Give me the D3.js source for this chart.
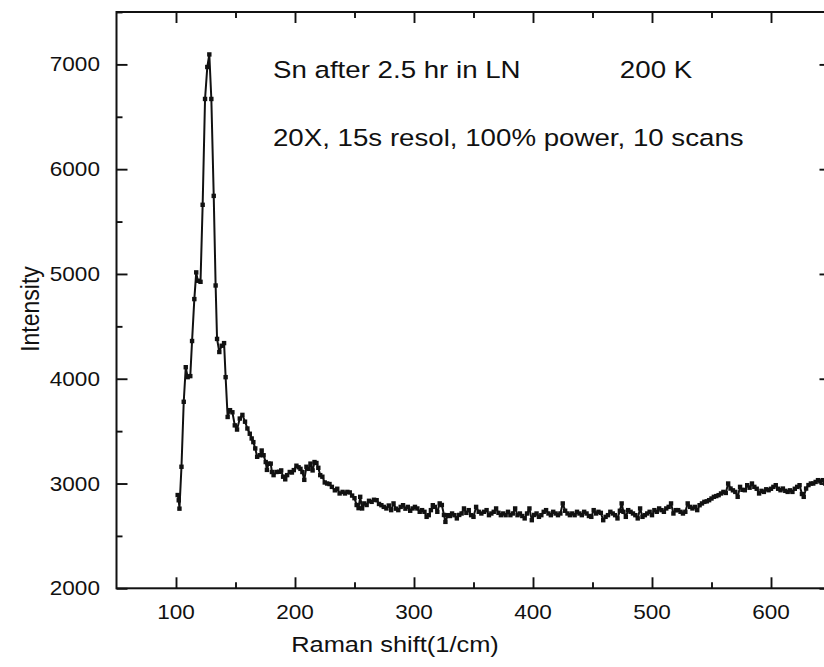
<!DOCTYPE html>
<html>
<head>
<meta charset="utf-8">
<script src="https://cdn.jsdelivr.net/npm/d3@7"></script>
<style>
  html, body { margin: 0; padding: 0; background: #fff; overflow: hidden; }
  svg { display: block; }
  text { font-family: "Liberation Sans", Arial, sans-serif; fill: #111; }
</style>
</head>
<body>
<svg id="chart" width="824" height="667"></svg>
<script>
// ---- data ----
const ramanShift = [
  101.4,102.3,102.9,104.6,106.5,108.2,109.8,112.0,113.5,115.4,117.0,118.3,120.6,122.4,124.4,126.3,128.0,129.7,131.7,133.3,
  134.5,136.4,138.4,140.4,141.7,143.4,145.4,147.4,149.4,151.3,153.6,155.8,158,160,162,163.6,165,166.6,168.2,170.5,
  172,173.6,175.4,176.4,177.8,179.6,180.6,182,184.4,186.6,188.4,190,191.8,193.4,195.6,197.4,199,201.2,203,204.6,
  206.2,207.8,209.6,211.4,213,214.8,216.4,218,219.6,221.2,223,225,227,229,231,233.5,235.5,237.5,240,242,
  244,246,248,250,251.8,253.4,254.8,256.4,258.2,260.2,262.2,264.4,266.4,268.6,270.6,272.6,274.6,276.8,278.8,280.8,
  282.8,284.8,286.8,288.8,290.8,292.8,294.8,296.8,298.8,300.8,302.8,304.8,306.8,308.8,310.6,312.4,314.2,315.8,317.6,319.6,
  321.6,323.4,325.2,326.4,328.4,330.2,332,334,336,338,340,342,344,346,348,350,352.2,354.4,356.6,358.8,
  361,363,365,367,369,371,373,375,377,379,381,383,385,387,389,391,393,395,397,399,
  401,403,405,407,409,411,413,415,417,419,421,423,425,427,429,431,433,435,437,439,
  441,443,445,447,449,451,453,455,457,459,461,463,465,467,469,471,473,474.5,476,478,
  480,482,484,486,488,490,492,494,496,498,500,502,504,506,508,510,512,514,516,518,
  520,522,524,526,528,530,532,534,536,538,540,542,544,546,548,550,552,554,556,558,
  560,562,564,566,568,570,572,574,576,578,580,582,584,586,588,590,592,594,596,598,
  600,602,604,606,608,610,612,614,616,618,620,622,624,626,627.5,629.5,631.5,633.5,635.5,637.5,
  639.5,641.5,643.5,645.5,647.5,649.5
];
const intensity = [
  2890,2840,2760,3160,3780,4110,4015,4025,4360,4760,5015,4935,4925,5660,6670,6975,7095,6670,5745,4890,
  4380,4255,4315,4340,4015,3635,3700,3680,3555,3515,3620,3655,3590,3525,3475,3430,3395,3335,3255,3270,
  3315,3270,3205,3130,3190,3190,3110,3080,3110,3112,3125,3065,3040,3080,3110,3105,3128,3170,3155,3140,
  3110,3035,3160,3140,3190,3125,3205,3196,3150,3080,3065,3010,3000,2995,2968,2935,2950,2905,2920,2905,
  2920,2915,2885,2860,2795,2765,2873,2762,2810,2795,2835,2825,2845,2841,2805,2793,2777,2762,2790,2746,
  2810,2760,2746,2777,2793,2760,2777,2740,2762,2777,2762,2730,2746,2730,2682,2698,2746,2793,2777,2730,
  2810,2795,2700,2634,2698,2690,2714,2698,2667,2700,2714,2762,2720,2746,2698,2682,2777,2730,2714,2730,
  2746,2698,2714,2730,2762,2720,2698,2714,2698,2730,2698,2714,2762,2698,2714,2690,2667,2714,2762,2650,
  2700,2714,2682,2698,2730,2746,2714,2698,2730,2714,2698,2714,2810,2740,2714,2698,2714,2698,2730,2714,
  2698,2730,2714,2690,2682,2746,2714,2730,2720,2650,2682,2698,2730,2714,2698,2667,2740,2810,2730,2682,
  2746,2730,2714,2698,2667,2762,2682,2698,2714,2730,2698,2746,2730,2762,2746,2730,2762,2777,2810,2714,
  2746,2746,2730,2714,2730,2810,2777,2762,2777,2746,2793,2810,2825,2830,2841,2857,2873,2880,2889,2905,
  2920,2910,3000,2952,2935,2920,2873,2968,2940,2936,2984,2960,3000,2968,2950,2905,2930,2920,2945,2936,
  2950,2968,2984,2950,2936,2952,2930,2920,2935,2920,2950,2968,2984,2900,2873,2952,2985,3000,3000,3015,
  3032,3020,3032,3000,3040,3020
];
const xMajorTicks = [100, 200, 300, 400, 500, 600];
const xMinorTicks = [150, 250, 350, 450, 550, 650];
const yMajorTicks = [2000, 3000, 4000, 5000, 6000, 7000];
const yMinorTicks = [2500, 3500, 4500, 5500, 6500, 7500];
const xTitle = "Raman shift(1/cm)";
const yTitle = "Intensity";
const notes = [
  {text: "Sn after 2.5 hr in LN", vx: 181.5, vy: 6872},
  {text: "200 K", vx: 473, vy: 6872},
  {text: "20X, 15s resol, 100% power, 10 scans", vx: 181.5, vy: 6225}
];

// ---- layout ----
const svg = d3.select("#chart");
const pLeft = 116.5, pRight = 830.5, pTop = 12, pBottom = 588.3;
const x = d3.scaleLinear().domain([50, 650]).range([pLeft, pRight]);
const y = d3.scaleLinear().domain([2000, 7500]).range([pBottom, pTop]);
const SX = 1.13; // horizontal stretch of the glyphs in the reference

const data = ramanShift.map((v, i) => ({x: v, y: intensity[i]}));

svg.append("defs").append("clipPath").attr("id", "clip")
  .append("rect").attr("x", pLeft).attr("y", pTop).attr("width", pRight - pLeft).attr("height", pBottom - pTop);

const plot = svg.append("g").attr("clip-path", "url(#clip)");
plot.append("path").datum(data)
  .attr("fill", "none").attr("stroke", "#111").attr("stroke-width", 2)
  .attr("stroke-linejoin", "round")
  .attr("d", d3.line().x(d => x(d.x)).y(d => y(d.y)));
plot.selectAll("rect.pt").data(data).join("rect").attr("class", "pt")
  .attr("x", d => x(d.x) - 2.2).attr("y", d => y(d.y) - 2.2)
  .attr("width", 4.4).attr("height", 4.4).attr("fill", "#111");

// frame
svg.append("rect").attr("x", pLeft).attr("y", pTop).attr("width", pRight - pLeft).attr("height", pBottom - pTop)
  .attr("fill", "none").attr("stroke", "#111").attr("stroke-width", 2);

// axes with inward ticks
const sw = 1.9;
function addAxis(axisGen, transform, ticks, size) {
  const g = svg.append("g").attr("transform", transform)
    .call(axisGen.tickValues(ticks).tickSize(size).tickFormat(""));
  g.select(".domain").remove();
  g.selectAll("line").attr("stroke", "#111").attr("stroke-width", sw);
  g.selectAll("text").remove();
  return g;
}
addAxis(d3.axisTop(x), `translate(0,${pBottom})`, xMajorTicks, 11);
addAxis(d3.axisTop(x), `translate(0,${pBottom})`, xMinorTicks, 6);
addAxis(d3.axisBottom(x), `translate(0,${pTop})`, xMajorTicks, 11);
addAxis(d3.axisBottom(x), `translate(0,${pTop})`, xMinorTicks, 6);
addAxis(d3.axisRight(y), `translate(${pLeft},0)`, yMajorTicks, 11);
addAxis(d3.axisRight(y), `translate(${pLeft},0)`, yMinorTicks, 6);
addAxis(d3.axisLeft(y), `translate(${pRight},0)`, yMajorTicks, 11);
addAxis(d3.axisLeft(y), `translate(${pRight},0)`, yMinorTicks, 6);

// tick labels
svg.append("g").selectAll("text").data(xMajorTicks).join("text")
  .attr("transform", d => `translate(${x(d)},619) scale(${SX},1)`)
  .attr("text-anchor", "middle").attr("font-size", 20).text(d => d);
svg.append("g").selectAll("text").data(yMajorTicks).join("text")
  .attr("transform", d => `translate(100,${y(d) + 7.1}) scale(${SX},1)`)
  .attr("text-anchor", "end").attr("font-size", 20).text(d => d);

// axis titles
svg.append("text").attr("transform", `translate(395,652) scale(${SX},1)`)
  .attr("text-anchor", "middle").attr("font-size", 22.5).text(xTitle);
svg.append("text").attr("transform", `translate(39,309) scale(${SX},1) rotate(-90)`)
  .attr("text-anchor", "middle").attr("font-size", 23).text(yTitle);

// annotations
svg.append("g").selectAll("text").data(notes).join("text")
  .attr("transform", d => `translate(${x(d.vx)},${y(d.vy)}) scale(${SX},1)`)
  .attr("font-size", 24.5).text(d => d.text);
</script>
</body>
</html>
